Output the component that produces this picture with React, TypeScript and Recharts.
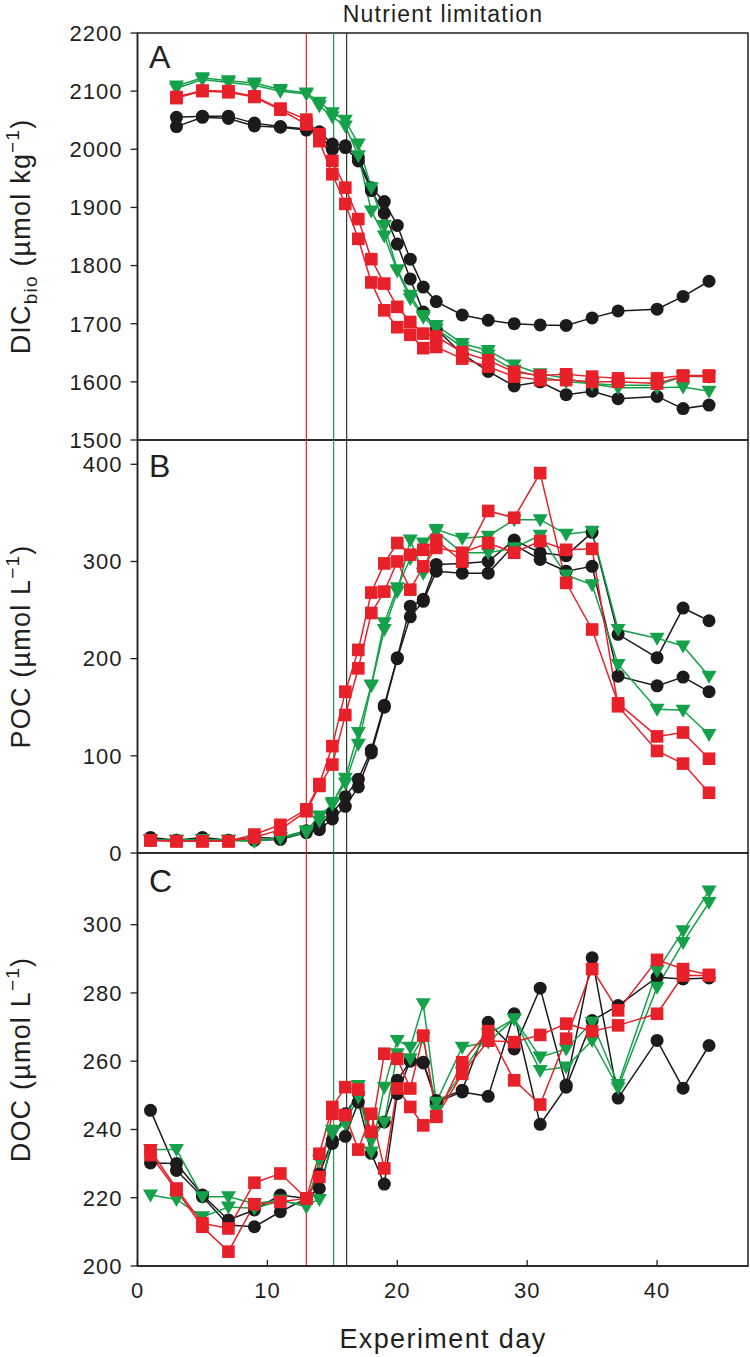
import React from "react";
import {
  LineChart,
  Line,
  XAxis,
  YAxis,
  ReferenceLine,
  ReferenceArea,
  Label,
} from "recharts";

// sampling days
const daysA = [3, 5, 7, 9, 11, 13, 14, 15, 16, 17, 18, 19, 20, 21, 22, 23, 25, 27, 29, 31, 33, 35, 37, 40, 42, 44];
const daysBC = [1, ...daysA];

// A: DIC_bio (umol/kg)
const dicBlack1 = [2055, 2057, 2057, 2045, 2039, 2035, 2030, 2009, 2006, 1986, 1934, 1910, 1869, 1811, 1763, 1738, 1715, 1706, 1700, 1698, 1697, 1710, 1722, 1725, 1747, 1773];
const dicBlack2 = [2039, 2055, 2053, 2040, 2038, 2033, 2025, 2000, 2003, 1980, 1929, 1890, 1837, 1777, 1720, 1691, 1648, 1618, 1593, 1600, 1578, 1584, 1571, 1575, 1554, 1560];
const dicGreen1 = [2109, 2123, 2118, 2114, 2103, 2097, 2081, 2063, 2050, 2009, 1934, 1869, 1793, 1749, 1714, 1697, 1666, 1654, 1629, 1614, 1606, 1596, 1590, 1590, 1591, 1584];
const dicGreen2 = [2105, 2120, 2115, 2110, 2100, 2095, 2075, 2056, 2040, 1989, 1894, 1851, 1791, 1743, 1711, 1691, 1660, 1646, 1620, 1609, 1600, 1597, 1594, 1594, 1609, 1609];
const dicRed1 = [2090, 2101, 2100, 2091, 2070, 2051, 2026, 1980, 1934, 1880, 1811, 1769, 1729, 1703, 1683, 1678, 1651, 1637, 1617, 1611, 1613, 1609, 1606, 1606, 1611, 1611];
const dicRed2 = [2088, 2100, 2098, 2090, 2068, 2043, 2014, 1957, 1906, 1846, 1771, 1723, 1694, 1681, 1658, 1660, 1640, 1626, 1609, 1603, 1603, 1600, 1600, 1597, 1610, 1609];

// B: POC (umol/L)
const pocBlack1 = [16, 13, 16, 13, 16, 15, 23, 28, 41, 58, 76, 106, 152, 201, 254, 261, 297, 298, 300, 322, 309, 306, 330, 225, 201, 252, 239];
const pocBlack2 = [14, 13, 13, 13, 13, 14, 21, 24, 35, 48, 68, 103, 150, 200, 243, 259, 290, 288, 288, 317, 302, 290, 295, 182, 172, 181, 166];
const pocGreen1 = [14, 13, 14, 13, 12, 16, 23, 38, 50, 77, 124, 173, 237, 273, 303, 319, 333, 324, 326, 343, 343, 328, 331, 230, 221, 213, 182];
const pocGreen2 = [13, 13, 14, 13, 12, 15, 21, 33, 52, 72, 112, 172, 230, 269, 322, 288, 331, 309, 309, 314, 327, 286, 276, 194, 148, 147, 122];
const pocRed1 = [13, 12, 12, 12, 19, 29, 45, 71, 110, 166, 209, 268, 298, 319, 307, 312, 322, 300, 352, 345, 391, 278, 230, 154, 120, 124, 97];
const pocRed2 = [13, 12, 12, 12, 16, 24, 43, 69, 91, 142, 190, 247, 269, 300, 271, 295, 314, 309, 319, 309, 321, 312, 313, 151, 105, 92, 62];

// C: DOC (umol/L)
const docBlack1 = [245.6, 228, 220.3, 212, 211.5, 215.9, 219.8, 222.7, 235.9, 238, 248, 233, 224, 250.5, 260.2, 259.7, 248, 251, 249.7, 273.9, 241.5, 252.4, 271.9, 276.3, 284.6, 284.1, 284.4];
const docBlack2 = [230.2, 230, 220.8, 213.5, 216.4, 220.8, 219.8, 227, 236.8, 244.6, 250.5, 238.8, 242.2, 254.4, 260, 259.5, 248.5, 251.5, 271.4, 263.6, 281.4, 253, 290.3, 249.2, 266.1, 252.1, 264.6];
const docGreen1 = [234.1, 234.1, 220.3, 220.3, 218.3, 219.3, 217.3, 231, 239.8, 241.7, 252.9, 233.4, 252.4, 266.1, 264.1, 276.8, 248, 264.1, 265.6, 272.4, 261.2, 263.6, 271.4, 253.2, 286.5, 298.2, 309.9];
const docGreen2 = [220.8, 219.5, 214.4, 217.3, 216.9, 219, 218, 219.5, 238.8, 242, 249.5, 236.8, 242.2, 262.2, 260.7, 267, 245.6, 256.8, 268, 272.4, 257.3, 258.3, 266.1, 252.2, 281.7, 294.8, 306.5];
const docRed1 = [233.9, 222.7, 212.5, 211, 224.4, 227.1, 219.8, 232.9, 246.6, 252.4, 251.7, 239.3, 262.2, 260.7, 252, 267.5, 243.9, 259.7, 268.8, 254.4, 247.3, 266.6, 287, 274.9, 289.7, 287, 285.3];
const docRed2 = [232.5, 222.2, 211.5, 204.2, 218.1, 218.8, 219.8, 226.1, 244.6, 244.2, 234.1, 244.6, 228.6, 252, 246.6, 241.2, 243.7, 256.3, 266, 265.6, 267.7, 271, 268.8, 270.5, 273.9, 285.1, 285.1];

// nutrient limitation onset (red, green, black)
const limitDays = [13, 15.1, 16.1];

const xTicks = [0, 10, 20, 30, 40];
const dicTicks = [1500, 1600, 1700, 1800, 1900, 2000, 2100, 2200];
const pocTicks = [0, 100, 200, 300, 400];
const docTicks = [200, 220, 240, 260, 280, 300];

const FONT = "'Liberation Sans', Arial, sans-serif";
const INK = "#231f20";
const BLACK = "#1c1a1b";
const RED = "#e8202a";
const GREEN = "#15a04a";
const limitColors = [RED, GREEN, "#333333"];

const buildRows = (days: number[], series: number[][]) =>
  days.map((day, i) => ({
    day,
    b1: series[0][i],
    b2: series[1][i],
    g1: series[2][i],
    g2: series[3][i],
    r1: series[4][i],
    r2: series[5][i],
  }));

const rowsA = buildRows(daysA, [dicBlack1, dicBlack2, dicGreen1, dicGreen2, dicRed1, dicRed2]);
const rowsB = buildRows(daysBC, [pocBlack1, pocBlack2, pocGreen1, pocGreen2, pocRed1, pocRed2]);
const rowsC = buildRows(daysBC, [docBlack1, docBlack2, docGreen1, docGreen2, docRed1, docRed2]);

const circleDot = (p: any) =>
  p.cx == null ? <g key={`c${p.index}`} /> : <circle key={`c${p.index}`} cx={p.cx} cy={p.cy} r={6.5} fill={BLACK} />;

const squareDot = (p: any) =>
  p.cx == null ? <g key={`s${p.index}`} /> : <rect key={`s${p.index}`} x={p.cx - 6.3} y={p.cy - 6.3} width={12.6} height={12.6} fill={RED} />;

const triDot = (p: any) =>
  p.cx == null ? (
    <g key={`t${p.index}`} />
  ) : (
    <polygon
      key={`t${p.index}`}
      points={`${p.cx - 7.5},${p.cy - 5.5} ${p.cx + 7.5},${p.cy - 5.5} ${p.cx},${p.cy + 7.5}`}
      fill={GREEN}
    />
  );

const series = [
  { key: "b1", color: BLACK, dot: circleDot },
  { key: "b2", color: BLACK, dot: circleDot },
  { key: "g1", color: GREEN, dot: triDot },
  { key: "g2", color: GREEN, dot: triDot },
  { key: "r1", color: RED, dot: squareDot },
  { key: "r2", color: RED, dot: squareDot },
];

const tickStyle = { fill: INK, fontSize: 22, fontFamily: FONT, letterSpacing: 1 };

type Part = { t: string; shift?: number; small?: boolean };

const YTitle = ({ viewBox, parts }: any) => {
  const cy = viewBox.y + viewBox.height / 2;
  return (
    <text
      transform={`translate(30, ${cy}) rotate(-90)`}
      textAnchor="middle"
      fill={INK}
      fontSize={27}
      fontFamily={FONT}
      letterSpacing={1.2}
    >
      {parts.map((p: Part, i: number) => (
        <tspan key={i} dy={p.shift ?? 0} fontSize={p.small ? 19 : 27}>
          {p.t}
        </tspan>
      ))}
    </text>
  );
};

const dicLabel: Part[] = [
  { t: "DIC" },
  { t: "bio", shift: 7, small: true },
  { t: " (µmol kg", shift: -7 },
  { t: "−1", shift: -11, small: true },
  { t: ")", shift: 11 },
];
const pocLabel: Part[] = [
  { t: "POC (µmol L" },
  { t: "−1", shift: -11, small: true },
  { t: ")", shift: 11 },
];
const docLabel: Part[] = [
  { t: "DOC (µmol L" },
  { t: "−1", shift: -11, small: true },
  { t: ")", shift: 11 },
];

type PanelProps = {
  top: number;
  height: number;
  rows: any[];
  domain: [number, number];
  yTicks: number[];
  label: Part[];
  last?: boolean;
};

function Panel({ top, height, rows, domain, yTicks, label, last }: PanelProps) {
  return (
    <div style={{ position: "absolute", left: 0, top }}>
      <LineChart
        width={750}
        height={height}
        data={rows}
        margin={{ top: 12, right: 2, bottom: last ? 0 : 12, left: 0 }}
      >
        <ReferenceArea
          x1={0}
          x2={47}
          y1={domain[0]}
          y2={domain[1]}
          fill="none"
          stroke={INK}
          strokeWidth={1.5}
          ifOverflow="visible"
        />
        <XAxis
          dataKey="day"
          type="number"
          domain={[0, 47]}
          ticks={xTicks}
          allowDataOverflow
          height={last ? 91 : 0}
          tickSize={-6}
          tickMargin={22}
          tick={tickStyle}
          tickFormatter={last ? undefined : () => ""}
          tickLine={{ stroke: INK, strokeWidth: 1.3 }}
          axisLine={{ stroke: INK, strokeWidth: 1.5 }}
          interval={0}
        >
          {last && (
            <Label
              content={() => (
                <text
                  x={443}
                  y={height - 9}
                  textAnchor="middle"
                  fill={INK}
                  fontSize={27}
                  fontFamily={FONT}
                  letterSpacing={1.4}
                >
                  Experiment day
                </text>
              )}
            />
          )}
        </XAxis>
        <YAxis
          type="number"
          domain={domain}
          ticks={yTicks}
          allowDataOverflow
          width={137.5}
          tickSize={7}
          tickMargin={8}
          tick={tickStyle}
          tickLine={{ stroke: INK, strokeWidth: 1.3 }}
          axisLine={{ stroke: INK, strokeWidth: 1.5 }}
          interval={0}
        >
          <Label content={(p: any) => <YTitle viewBox={p.viewBox} parts={label} />} />
        </YAxis>
        {limitDays.map((d, i) => (
          <ReferenceLine key={d} x={d} stroke={limitColors[i]} strokeWidth={1.2} />
        ))}
        {series.map((s) => (
          <Line
            key={s.key}
            type="linear"
            dataKey={s.key}
            stroke={s.color}
            strokeWidth={1.5}
            dot={s.dot}
            activeDot={false}
            connectNulls
            isAnimationActive={false}
          />
        ))}
      </LineChart>
    </div>
  );
}

export default function App() {
  return (
    <div
      style={{
        position: "absolute",
        left: 0,
        top: 0,
        width: 750,
        height: 1357,
        background: "#fff",
        overflow: "hidden",
      }}
    >
      <Panel top={21} height={431} rows={rowsA} domain={[1500, 2200]} yTicks={dicTicks} label={dicLabel} />
      <Panel top={428} height={437} rows={rowsB} domain={[0, 425]} yTicks={pocTicks} label={pocLabel} />
      <Panel top={841} height={516} rows={rowsC} domain={[200, 321]} yTicks={docTicks} label={docLabel} last />
      <svg
        width={750}
        height={1357}
        style={{ position: "absolute", left: 0, top: 0, pointerEvents: "none" }}
      >
        <text x={443} y={22} textAnchor="middle" fill={INK} fontSize={23} fontFamily={FONT} letterSpacing={1.2}>
          Nutrient limitation
        </text>
        <text x={149} y={68} fill={INK} fontSize={32} fontFamily={FONT}>A</text>
        <text x={149} y={477} fill={INK} fontSize={32} fontFamily={FONT}>B</text>
        <text x={149} y={892} fill={INK} fontSize={32} fontFamily={FONT}>C</text>
      </svg>
    </div>
  );
}
